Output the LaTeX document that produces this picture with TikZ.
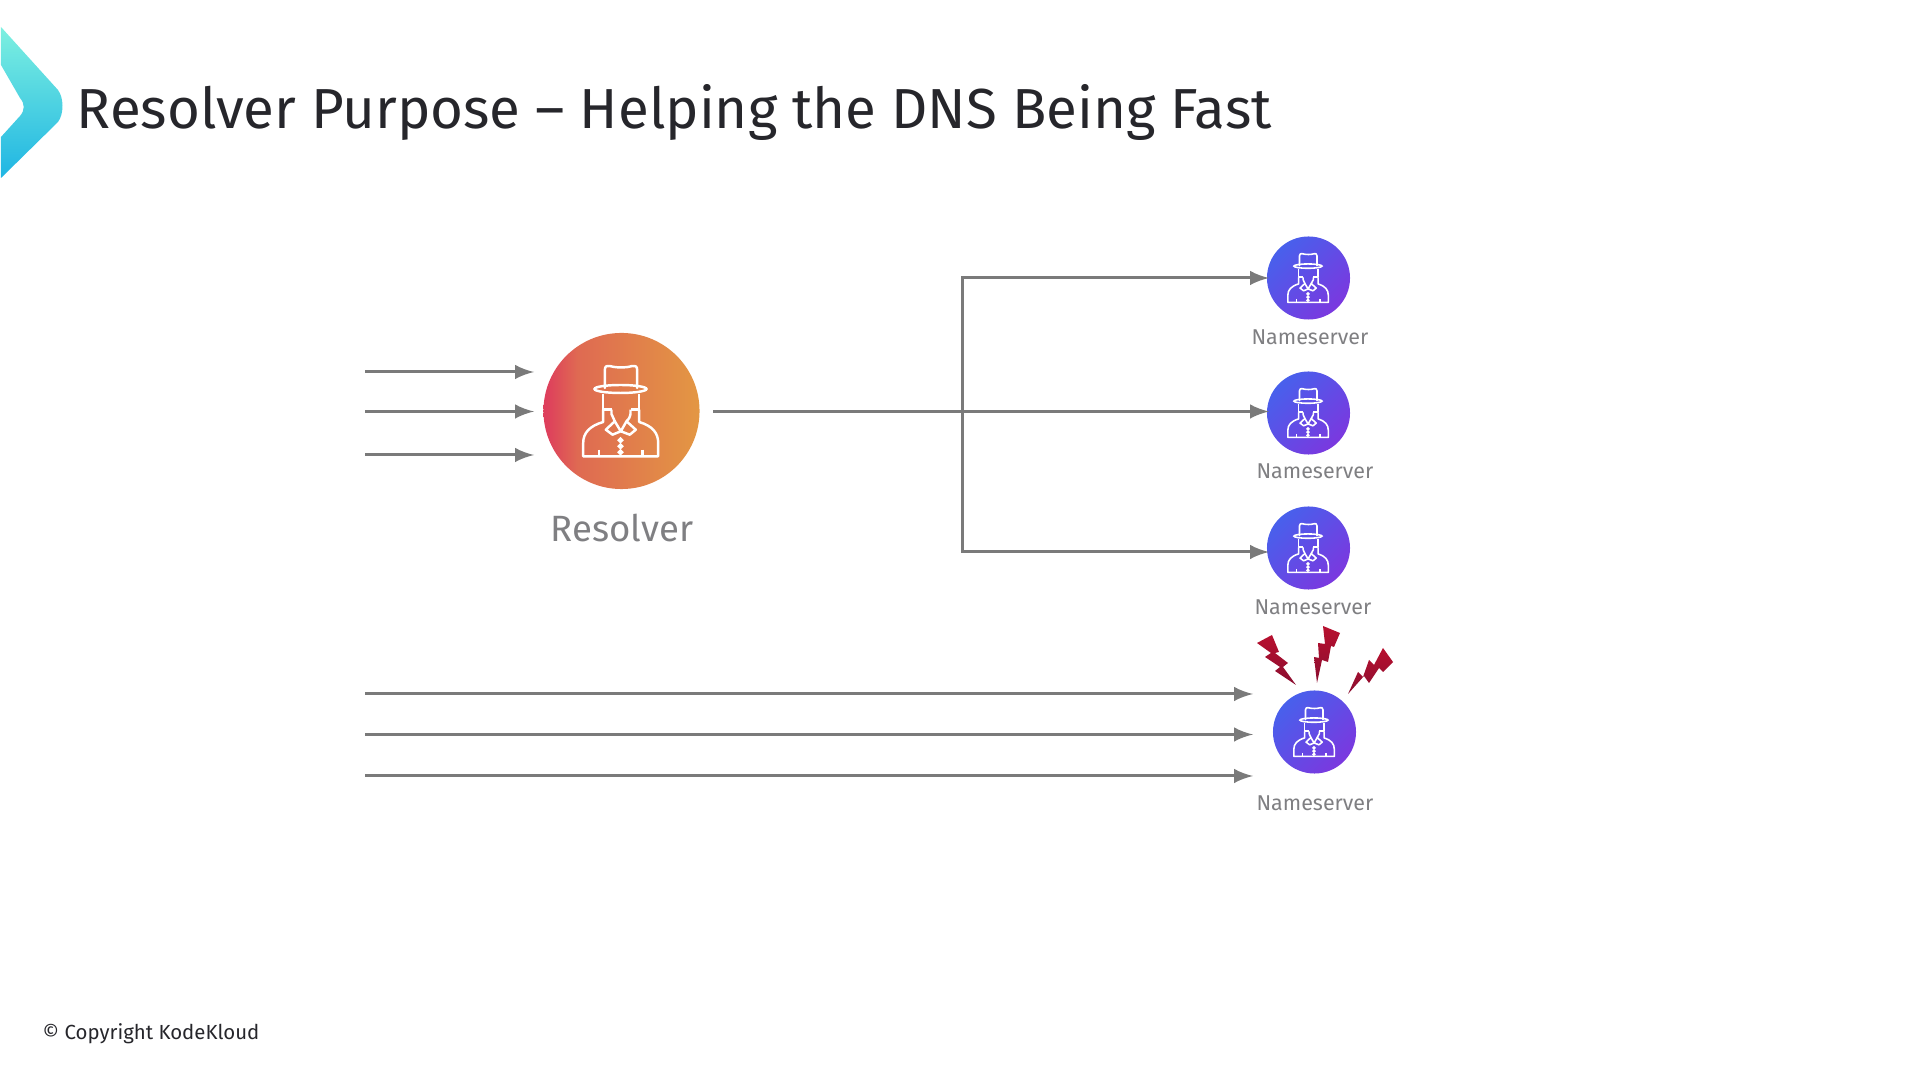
\documentclass[tikz,border=0pt]{standalone}
\usepackage{fontspec}
\setmainfont{Fira Sans}
\definecolor{inktitle}{HTML}{26262B}
\definecolor{inklabel}{HTML}{7F7F82}
\definecolor{inkline}{HTML}{7A7A7A}
\definecolor{fadered}{HTML}{DE3F5C}
\definecolor{fademid}{HTML}{DF6A52}
\definecolor{fadeamber}{HTML}{E39743}
\definecolor{serverblue}{HTML}{4860EC}
\definecolor{serverviolet}{HTML}{7B38DF}
\definecolor{tealtop}{HTML}{7DF0E0}
\definecolor{tealbottom}{HTML}{1FB5E3}
\definecolor{boltlight}{HTML}{B8102F}
\definecolor{boltdark}{HTML}{8A0E30}
\pgfdeclarehorizontalshading{resolverfade}{100bp}{color(0bp)=(fadered);color(26bp)=(fadered);color(36bp)=(fademid);color(75bp)=(fadeamber);color(100bp)=(fadeamber)}
\tikzset{
    link/.style={draw=inkline,line width=0.85pt},
    resolvernode/.style={circle,minimum size=1.56cm,inner sep=0,shading=resolverfade},
    servernode/.style={circle,minimum size=0.83cm,inner sep=0,top color=serverblue,bottom color=serverviolet,shading angle=45},
    boltshape/.style={top color=boltlight,bottom color=boltdark},
    servertext/.style={anchor=base,inner sep=0,text=inklabel,font=\fontsize{6.1}{7}\selectfont},
    pics/person/.style={code={
        \draw[white,line join=round,line cap=round]
            (-16.7,-23)--(-16.7,-41)..controls(-16.7,-45.3)and(-14,-45.3)..(-12,-45)..controls(-4,-43)and(4,-43)..(11,-45)..controls(13,-45.3)and(15.7,-45.3)..(15.7,-41)--(15.7,-23);
        \draw[white] (-1,-22)ellipse[x radius=26,y radius=4];
        \draw[white,line join=round] (-18.3,-17)--(-18.3,-1.3)--(-10,-1.3);
        \draw[white,line join=round] (17.7,-17)--(17.7,-1.3)--(9,-1.3);
        \draw[white,line join=round] (-10,-1.3)--(-10,3)..controls(-9,7)..(-6.7,10.3);
        \draw[white,line join=round] (9,-1.3)--(9,3)..controls(8,7)..(5,10.3);
        \draw[white,line join=round] (-6.7,10.3)--(-0.7,20.3)--(5,10.3)--(14.3,18.7)--(8.3,23.7)--(-0.7,20.3)--(-9,23.7)--(-15.7,18.7)--cycle;
        \draw[white,line join=round]
            (-18.3,-1.3)--(-18.3,11)..controls(-32,15)and(-38.3,22)..(-38.3,32)--(-38.3,45.3)--(36.7,45.3)--(36.7,32)..controls(36.7,22)and(31,15)..(17.7,11)--(17.7,-1.3);
        \draw[white] (-22.3,38.7)--(-22.3,45.3);
        \draw[white] (21,38.7)--(21,45.3);
        \draw[white] (-1,29.3)circle(1.6);
        \draw[white] (-1,35.3)circle(1.6);
        \draw[white] (-1,41.3)circle(1.6);
    }},
}
\begin{document}
\begin{tikzpicture}[>=latex,x=0.01cm,y=-0.01cm]
    \useasboundingbox(0,0)rectangle(1920,1080);
    % title band
    \shade[top color=tealtop,bottom color=tealbottom]
        (1,27)--(58,90)..controls(64,98)and(64,114)..(58,122)--(1,178)--(1,137)--(20,116)..controls(25,110)and(25,104)..(20,98)--(1,65)--cycle;
    \node[anchor=base west,inner sep=0,text=inktitle,font=\fontsize{16.05}{18}\selectfont](title)at(76,129){Resolver Purpose -- Helping the DNS Being Fast};
    \node[anchor=base west,inner sep=0,text=inktitle,font=\fontsize{5.8}{7}\selectfont](copyright)at(42,1040){© Copyright KodeKloud};
    % resolver
    \node[resolvernode](resolver)at(621.5,411){};
    \pic[scale=1,line width=0.7pt]at(resolver){person};
    \node[anchor=base,inner sep=0,text=inklabel,font=\fontsize{10.4}{12}\selectfont](resolverlabel)at(622,542){Resolver};
    % nameservers
    \node[servernode](nsone)at(1308.5,278){};
    \pic[scale=0.54,line width=0.45pt]at(nsone){person};
    \node[servertext](nsonelabel)at(1310,345){Nameserver};
    \node[servernode](nstwo)at(1308.5,413){};
    \pic[scale=0.54,line width=0.45pt]at(nstwo){person};
    \node[servertext](nstwolabel)at(1315,479){Nameserver};
    \node[servernode](nsthree)at(1308.5,548){};
    \pic[scale=0.54,line width=0.45pt]at(nsthree){person};
    \node[servertext](nsthreelabel)at(1313,615){Nameserver};
    \node[servernode](nsfour)at(1314.5,732){};
    \pic[scale=0.54,line width=0.45pt]at(nsfour){person};
    \node[servertext](nsfourlabel)at(1315,810.5){Nameserver};
    % incoming to resolver
    \coordinate(ina)at(365,372);
    \coordinate(inb)at(365,411.5);
    \coordinate(inc)at(365,455);
    \coordinate(outa)at(534,372);
    \coordinate(outb)at(534,411.5);
    \coordinate(outc)at(534,455);
    \draw[link,->](ina)--(outa);
    \draw[link,->](inb)--(outb);
    \draw[link,->](inc)--(outc);
    % resolver to nameservers
    \coordinate(start)at(713,411.5);
    \coordinate(split)at(962,411.5);
    \coordinate(endone)at(1269,278);
    \coordinate(endtwo)at(1269,411.5);
    \coordinate(endthree)at(1269,552);
    \draw[link,->](start)--(endtwo);
    \draw[link,->](split)|-(endone);
    \draw[link,->](split)|-(endthree);
    % direct to nameserver
    \coordinate(ind)at(365,694);
    \coordinate(ine)at(365,734.5);
    \coordinate(inf)at(365,776);
    \coordinate(outd)at(1253,694);
    \coordinate(oute)at(1253,734.5);
    \coordinate(outf)at(1253,776);
    \draw[link,->](ind)--(outd);
    \draw[link,->](ine)--(oute);
    \draw[link,->](inf)--(outf);
    % bolts
    \shade[boltshape](1257,643)--(1272,635)--(1279,652)--(1275,653)--(1288,663)--(1283,667)--(1296,685)--(1275,671)--(1280,667)--(1265,657)--(1271,653)--cycle;
    \shade[boltshape](1323,626)--(1340,633)--(1334,647)--(1331,646)--(1328,662)--(1322,660)--(1317,683)--(1314,657)--(1319,658)--(1318,643)--(1325,644)--cycle;
    \shade[boltshape](1383,648)--(1393,662)--(1383,672)--(1379,668)--(1369,683)--(1364,676)--(1348,694)--(1358,672)--(1363,677)--(1369,660)--(1374,665)--cycle;
\end{tikzpicture}
\end{document}
